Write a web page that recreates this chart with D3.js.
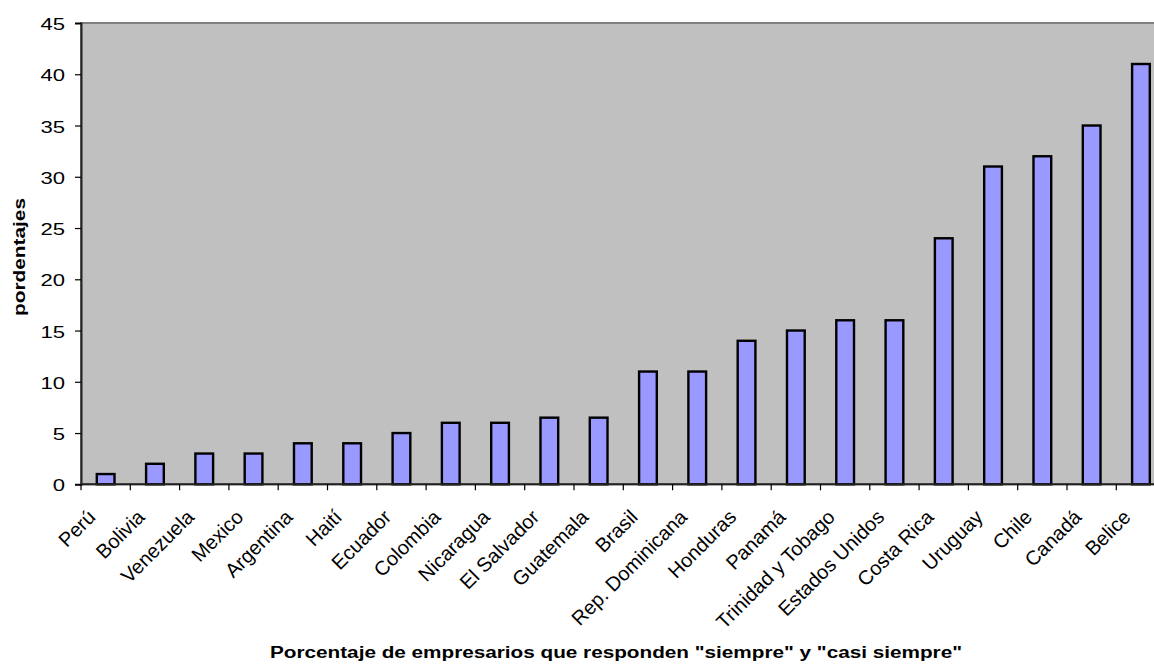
<!DOCTYPE html>
<html>
<head>
<meta charset="utf-8">
<script src="https://cdn.jsdelivr.net/npm/d3@7/dist/d3.min.js"></script>
<style>
  html, body { margin: 0; padding: 0; background: #ffffff; }
  svg { display: block; }
  text { font-family: "Liberation Sans", Arial, sans-serif; fill: #000; }
</style>
</head>
<body>
<svg id="chart" width="1154" height="672"></svg>
<script>
// Countries, ordered from lowest to highest share
const countries = [
  "Perú", "Bolivia", "Venezuela", "Mexico", "Argentina", "Haití", "Ecuador",
  "Colombia", "Nicaragua", "El Salvador", "Guatemala", "Brasil",
  "Rep. Dominicana", "Honduras", "Panamá", "Trinidad y Tobago",
  "Estados Unidos", "Costa Rica", "Uruguay", "Chile", "Canadá", "Belice"
];

// Percentage of business owners answering "siempre" or "casi siempre"
const percentages = [
  1, 2, 3, 3, 4, 4, 5,
  6, 6, 6.5, 6.5, 11,
  11, 14, 15, 16,
  16, 24, 31, 32, 35, 41
];

// Value axis ticks
const yTicks = [0, 5, 10, 15, 20, 25, 30, 35, 40, 45];

const yAxisTitle = "pordentajes";
const xAxisTitle = "Porcentaje de empresarios que responden \"siempre\" y \"casi siempre\"";

const svg = d3.select("#chart");

const plot = { left: 81, top: 23, bottom: 484.3, step: 49.3 };
plot.right = plot.left + plot.step * countries.length;

// Category scale: one slot per country, ticks fall on slot edges
const xSlot = d3.scaleBand()
  .domain(countries)
  .range([plot.left, plot.right])
  .padding(0);

// Bars take 40% of each slot, centred
const xBar = d3.scaleBand()
  .domain(countries)
  .range([plot.left, plot.right])
  .paddingInner(0.6)
  .paddingOuter(0.3);

const y = d3.scaleLinear()
  .domain([0, 45])
  .range([plot.bottom, plot.top]);

// Plot area background
svg.append("rect")
  .attr("x", plot.left)
  .attr("y", plot.top)
  .attr("width", plot.right - plot.left)
  .attr("height", plot.bottom - plot.top)
  .attr("fill", "#c0c0c0")
  .attr("stroke", "#808080")
  .attr("stroke-width", 2);

// Bars
const data = countries.map((c, i) => ({ country: c, value: percentages[i] }));
svg.append("g")
  .selectAll("rect")
  .data(data)
  .join("rect")
  .attr("x", d => xBar(d.country) + 1)
  .attr("width", xBar.bandwidth() - 2)
  .attr("y", d => y(d.value))
  .attr("height", d => y(0) - y(d.value))
  .attr("fill", "#9999ff")
  .attr("stroke", "#000")
  .attr("stroke-width", 2.4);

// Value axis
const yAxis = svg.append("g")
  .attr("transform", `translate(${plot.left},0)`)
  .call(d3.axisLeft(y).tickValues(yTicks).tickSize(6).tickFormat(""));
yAxis.select(".domain").attr("stroke", "#222").attr("stroke-width", 2);
yAxis.selectAll(".tick line").attr("stroke", "#000").attr("stroke-width", 1.2);

svg.append("g")
  .selectAll("text")
  .data(yTicks)
  .join("text")
  .attr("transform", d => `translate(65,${y(d) + 7}) scale(1.3,1)`)
  .attr("text-anchor", "end")
  .style("font-size", "17px")
  .text(d => d);

// Category axis: baseline line, ticks between categories
svg.append("line")
  .attr("x1", plot.left)
  .attr("x2", plot.right)
  .attr("y1", plot.bottom)
  .attr("y2", plot.bottom)
  .attr("stroke", "#222")
  .attr("stroke-width", 2);

const edges = countries.map(c => xSlot(c)).concat([plot.right]);
svg.append("g")
  .selectAll("line")
  .data(edges)
  .join("line")
  .attr("x1", d => d)
  .attr("x2", d => d)
  .attr("y1", plot.bottom)
  .attr("y2", plot.bottom + 6)
  .attr("stroke", "#000")
  .attr("stroke-width", 1.2);

// Rotated category labels
svg.append("g")
  .selectAll("text")
  .data(countries)
  .join("text")
  .attr("transform", c => `translate(${xSlot(c) + xSlot.bandwidth() / 2 - 9},${plot.bottom + 34}) rotate(-45)`)
  .attr("text-anchor", "end")
  .style("font-size", "20px")
  .text(c => c);

// Axis titles
svg.append("text")
  .attr("transform", `translate(25,257) rotate(-90)`)
  .attr("text-anchor", "middle")
  .attr("textLength", 118)
  .attr("lengthAdjust", "spacingAndGlyphs")
  .style("font-size", "17px")
  .style("font-weight", "bold")
  .text(yAxisTitle);

svg.append("text")
  .attr("x", 616)
  .attr("y", 658)
  .attr("text-anchor", "middle")
  .attr("textLength", 692)
  .attr("lengthAdjust", "spacingAndGlyphs")
  .style("font-size", "16px")
  .style("font-weight", "bold")
  .text(xAxisTitle);
</script>
</body>
</html>
